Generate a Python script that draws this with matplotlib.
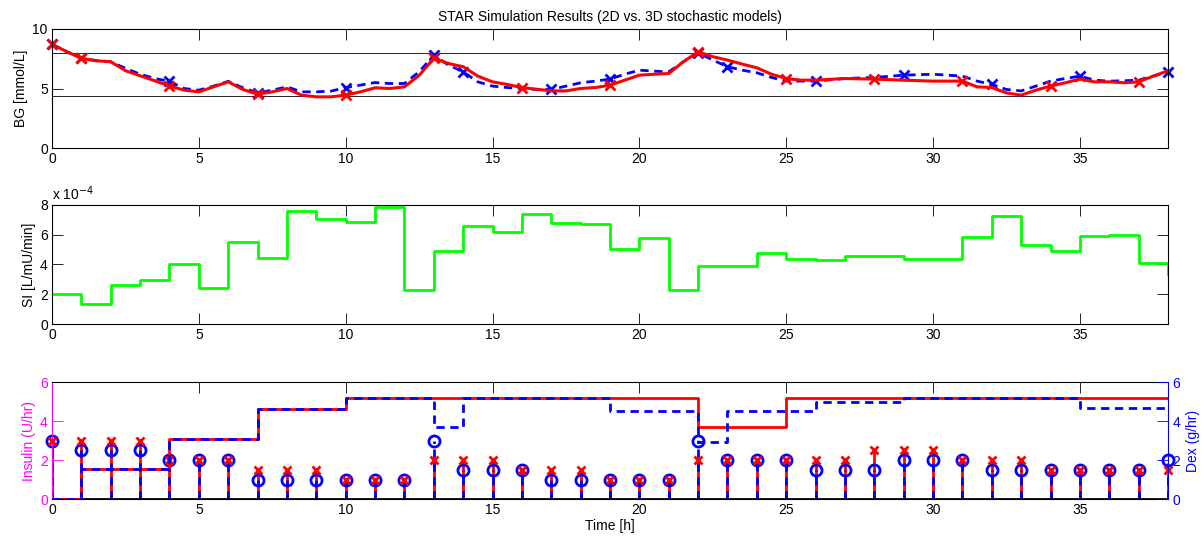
import numpy as np
import matplotlib
matplotlib.use("Agg")
import matplotlib.pyplot as plt

plt.rcParams['font.family'] = ['Liberation Sans', 'DejaVu Sans']

# blood glucose (mmol/L), red = 2D model, blue = 3D model
bg_t = [0, 0.5, 1, 1.5, 2, 2.5, 3, 3.5, 4, 4.5, 5, 5.5, 6, 6.5, 7, 7.5, 8, 8.5, 9, 9.5,
        10, 10.5, 11, 11.5, 12, 12.5, 13, 13.5, 14, 14.5, 15, 15.5, 16, 16.5, 17, 17.5,
        18, 18.5, 19, 19.5, 20, 20.5, 21, 21.5, 22, 22.5, 23, 23.5, 24, 24.5, 25, 25.5,
        26, 27, 28, 29, 30, 31, 31.5, 32, 32.5, 33, 33.5, 34, 34.5, 35, 35.5, 36, 36.5,
        37, 37.5, 38]
bg_2d = [8.71, 8.1, 7.53, 7.33, 7.25, 6.5, 6.07, 5.65, 5.22, 4.86, 4.72, 5.14, 5.56, 4.92,
         4.52, 4.72, 5.0, 4.44, 4.3, 4.3, 4.44, 4.72, 5.06, 5.0, 5.14, 6.1, 7.53, 7.1, 6.83,
         6.04, 5.56, 5.34, 5.08, 4.94, 4.8, 4.8, 5.0, 5.08, 5.28, 5.7, 6.12, 6.2, 6.26, 7.25,
         8.09, 7.67, 7.39, 7.05, 6.74, 6.2, 5.84, 5.7, 5.7, 5.84, 5.79, 5.7, 5.62, 5.62, 5.14,
         5.08, 4.63, 4.44, 4.86, 5.2, 5.48, 5.79, 5.56, 5.56, 5.48, 5.56, 6.04, 6.49]
bg_3d = [8.71, 8.1, 7.53, 7.35, 7.25, 6.7, 6.2, 5.84, 5.6, 5.0, 4.86, 5.2, 5.6, 5.06,
         4.63, 4.86, 5.14, 4.72, 4.72, 4.78, 5.08, 5.28, 5.5, 5.42, 5.42, 6.4, 7.8, 6.97, 6.4,
         5.56, 5.2, 5.08, 5.0, 4.92, 4.92, 5.2, 5.48, 5.62, 5.79, 6.2, 6.54, 6.46, 6.4, 7.25,
         8.0, 7.39, 6.83, 6.54, 6.32, 5.93, 5.62, 5.62, 5.62, 5.84, 5.93, 6.12, 6.2, 6.04, 5.62,
         5.34, 4.92, 4.8, 5.2, 5.62, 5.84, 6.04, 5.7, 5.62, 5.65, 5.7, 6.04, 6.4]
meas_2d = [0, 1, 4, 7, 10, 13, 16, 19, 22, 25, 28, 31, 34, 37]
meas_3d = [0, 1, 4, 7, 10, 13, 14, 17, 19, 22, 23, 26, 29, 32, 35, 38]
band = [4.4, 8.0]

hours = list(range(39))
# insulin sensitivity (x 1e-4 L/mU/min)
si = [2.0, 1.36, 2.64, 2.95, 4.0, 2.44, 5.5, 4.47, 7.58, 7.04, 6.88, 7.84, 2.30, 4.89,
      6.59, 6.17, 7.42, 6.82, 6.73, 5.05, 5.81, 2.26, 3.93, 3.93, 4.8, 4.36, 4.29, 4.54,
      4.58, 4.4, 4.4, 5.83, 7.26, 5.30, 4.94, 5.94, 6.01, 4.09, 3.37]

# insulin (U/hr)
ins_2d = [3, 3, 3, 3, 2, 2, 2, 1.5, 1.5, 1.5, 1, 1, 1, 2, 2, 2, 1.5, 1.5, 1.5, 1, 1, 1,
          2, 2, 2, 2, 2, 2, 2.5, 2.5, 2.5, 2, 2, 2, 1.5, 1.5, 1.5, 1.5, 1.5]
ins_3d = [3, 2.5, 2.5, 2.5, 2, 2, 2, 1, 1, 1, 1, 1, 1, 3, 1.5, 1.5, 1.5, 1, 1, 1, 1, 1,
          3, 2, 2, 2, 1.5, 1.5, 1.5, 2, 2, 2, 1.5, 1.5, 1.5, 1.5, 1.5, 1.5, 2]
# dextrose (g/hr)
dex_2d = [0, 1.55, 1.55, 1.55, 3.1, 3.1, 3.1, 4.63, 4.63, 4.63, 5.2, 5.2, 5.2, 5.2, 5.2,
          5.2, 5.2, 5.2, 5.2, 5.2, 5.2, 5.2, 3.68, 3.68, 3.68, 5.2, 5.2, 5.2, 5.2, 5.2, 5.2,
          5.2, 5.2, 5.2, 5.2, 5.2, 5.2, 5.2, 5.2]
dex_3d = [0, 1.55, 1.55, 1.55, 3.1, 3.1, 3.1, 4.63, 4.63, 4.63, 5.2, 5.2, 5.2, 3.68, 5.2,
          5.2, 5.2, 5.2, 5.2, 4.49, 4.49, 4.49, 2.93, 4.49, 4.49, 4.49, 4.97, 4.97, 4.97,
          5.2, 5.2, 5.2, 5.2, 5.2, 5.2, 4.69, 4.69, 4.69, 4.69]

FS = 10
DASH = (0, (3, 2))


def style(ax):
    ax.set_xlim(0, 38)
    ax.set_xticks(range(0, 40, 5))
    ax.tick_params(direction='in', top=True, right=True, length=8, width=0.6,
                   labelsize=FS, pad=3)
    for s in ax.spines.values():
        s.set_linewidth(0.8)


fig = plt.figure(figsize=(12.04, 5.41), dpi=100)
L, W = 0.0432, 0.9269
ax1 = fig.add_axes([L, 0.7264, W, 0.2200])
ax2 = fig.add_axes([L, 0.4011, W, 0.2200])
ax3 = fig.add_axes([L, 0.0776, W, 0.2163])

# --- BG
for b in band:
    ax1.axhline(b, color='k', lw=0.6)
idx3 = [bg_t.index(t) for t in meas_3d]
idx2 = [bg_t.index(t) for t in meas_2d]
ax1.plot(bg_t, bg_3d, color='blue', lw=2, linestyle=DASH, marker='x', markevery=idx3,
         ms=7.5, mew=2, clip_on=False)
ax1.plot(bg_t, bg_2d, color='red', lw=2.2, marker='x', markevery=idx2,
         ms=7.5, mew=2, clip_on=False)
ax1.set_ylim(0, 10)
ax1.set_yticks([0, 5, 10])
style(ax1)
ax1.set_ylabel('BG [mmol/L]', fontsize=FS, labelpad=3.5)
ax1.set_title('STAR Simulation Results (2D vs. 3D stochastic models)', fontsize=FS, pad=6)

# --- SI
ax2.step(hours, si, where='post', color='#00ff00', lw=2)
ax2.set_ylim(0, 8)
ax2.set_yticks([0, 2, 4, 6, 8])
style(ax2)
ax2.set_ylabel('SI [L/mU/min]', fontsize=FS, labelpad=2.5)
ax2.text(0.0, 1.02, r'x 10$^{-4}$', transform=ax2.transAxes, fontsize=FS, va='bottom')

# --- insulin / dextrose
style(ax3)
ax3.tick_params(axis='y', right=False, colors='magenta')
ax3.tick_params(axis='x', colors='k')
ax3.spines['left'].set_color('magenta')
ax3.spines['right'].set_visible(False)
ml, sl, bl = ax3.stem(hours, ins_2d, linefmt='r-', markerfmt='rx', basefmt='k-')
sl.set_linewidth(2)
ml.set_markersize(6)
ml.set_markeredgewidth(2)
ml.set_clip_on(False)
ml.set_zorder(5)
bl.set_linewidth(2)
bl.set_zorder(4)
ml3, sl3, bl3 = ax3.stem(hours, ins_3d, linefmt='b--', markerfmt='bo', basefmt=' ')
sl3.set_linewidth(2)
sl3.set_linestyle(DASH)
ml3.set_markersize(8)
ml3.set_markeredgewidth(2)
ml3.set_markerfacecolor('none')
ml3.set_clip_on(False)
ax3.set_ylim(0, 6)
ax3.set_yticks([0, 2, 4, 6])
ax3.set_xlim(0, 38)
ax3.set_ylabel('Insulin (U/hr)', fontsize=FS, color='magenta', labelpad=2.5)
ax3.set_xlabel('Time [h]', fontsize=FS, labelpad=1)

axr = ax3.twinx()
axr.step(hours, dex_2d, where='post', color='red', lw=2)
axr.step(hours, dex_3d, where='post', color='blue', lw=2, linestyle=DASH)
axr.set_ylim(0, 6)
axr.set_yticks([0, 2, 4, 6])
axr.set_xlim(0, 38)
axr.tick_params(axis='y', direction='in', length=8, width=0.6, labelsize=FS,
                colors='blue', pad=3)
for k in ['left', 'top', 'bottom']:
    axr.spines[k].set_visible(False)
axr.spines['right'].set_color('blue')
axr.spines['right'].set_linewidth(0.8)
axr.set_ylabel('Dex (g/hr)', fontsize=FS, color='blue', labelpad=4)

fig.savefig('out.png', dpi=100)
